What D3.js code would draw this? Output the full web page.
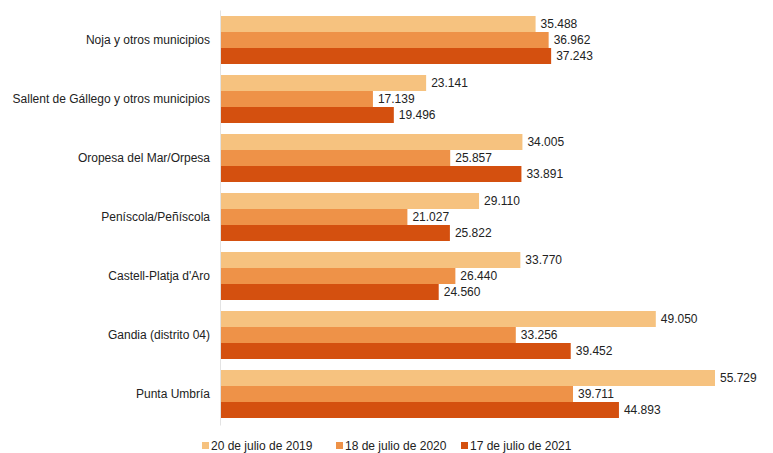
<!DOCTYPE html>
<html>
<head>
<meta charset="utf-8">
<script src="https://cdn.jsdelivr.net/npm/d3@7"></script>
<style>
  body { margin: 0; background: #fff; }
  text { font-family: "Liberation Sans", Arial, sans-serif; fill: #222; }
</style>
</head>
<body>
<div id="chart"></div>
<script>
var categories = ["Noja y otros municipios", "Sallent de Gállego y otros municipios",
  "Oropesa del Mar/Orpesa", "Peníscola/Peñíscola", "Castell-Platja d'Aro",
  "Gandia (distrito 04)", "Punta Umbría"];
var seriesNames = ["20 de julio de 2019", "18 de julio de 2020", "17 de julio de 2021"];
var v2019 = [35488, 23141, 34005, 29110, 33770, 49050, 55729];
var v2020 = [36962, 17139, 25857, 21027, 26440, 33256, 39711];
var v2021 = [37243, 19496, 33891, 25822, 24560, 39452, 44893];
var colors = ["#F6C27F", "#EE9248", "#D4500F"];

var width = 773, height = 453;
var plotLeft = 221, plotTop = 10.5;

var svg = d3.select("#chart").append("svg")
  .attr("width", width).attr("height", height);

var x = d3.scaleLinear().domain([0, 55729]).range([plotLeft, 715]);
var y0 = d3.scaleBand().domain(categories)
  .range([plotTop, plotTop + 7 * 59])
  .paddingInner(11 / 59).paddingOuter(11 / 118);
var y1 = d3.scaleBand().domain([0, 1, 2]).range([0, y0.bandwidth()]);

var fmt = function(v) { return d3.format(",")(v).replace(/,/g, "."); };
var allSeries = [v2019, v2020, v2021];

var groups = svg.selectAll("g.cat").data(categories).enter().append("g")
  .attr("class", "cat")
  .attr("transform", function(d) { return "translate(0," + y0(d) + ")"; });

groups.each(function(cat, i) {
  var g = d3.select(this);
  var rows = allSeries.map(function(s, k) { return { k: k, v: s[i] }; });
  g.selectAll("rect").data(rows).enter().append("rect")
    .attr("x", x(0))
    .attr("y", function(d) { return y1(d.k); })
    .attr("width", function(d) { return x(d.v) - x(0); })
    .attr("height", y1.bandwidth())
    .attr("fill", function(d) { return colors[d.k]; });
  g.selectAll("text.val").data(rows).enter().append("text")
    .attr("class", "val")
    .attr("x", function(d) { return x(d.v) + 5; })
    .attr("y", function(d) { return y1(d.k) + y1.bandwidth() / 2; })
    .attr("dy", "0.35em")
    .attr("font-size", 12)
    .text(function(d) { return fmt(d.v); });
});

svg.append("line")
  .attr("x1", x(0) - 0.5).attr("x2", x(0) - 0.5)
  .attr("y1", plotTop).attr("y2", plotTop + 7 * 59 + 2)
  .attr("stroke", "#e3e3e3").attr("stroke-width", 1);

svg.selectAll("text.catlab").data(categories).enter().append("text")
  .attr("class", "catlab")
  .attr("x", 210)
  .attr("y", function(d) { return y0(d) + y0.bandwidth() / 2; })
  .attr("dy", "0.35em")
  .attr("text-anchor", "end")
  .attr("font-size", 12)
  .text(function(d) { return d; });

var legendX = [202, 336, 461];
var legend = svg.selectAll("g.leg").data(seriesNames).enter().append("g")
  .attr("class", "leg")
  .attr("transform", function(d, i) { return "translate(" + legendX[i] + ",446)"; });
legend.append("rect").attr("x", 0).attr("y", -4).attr("width", 7).attr("height", 7)
  .attr("fill", function(d, i) { return colors[i]; });
legend.append("text").attr("x", 9).attr("y", 0).attr("dy", "0.35em")
  .attr("font-size", 12).text(function(d) { return d; });
</script>
</body>
</html>
